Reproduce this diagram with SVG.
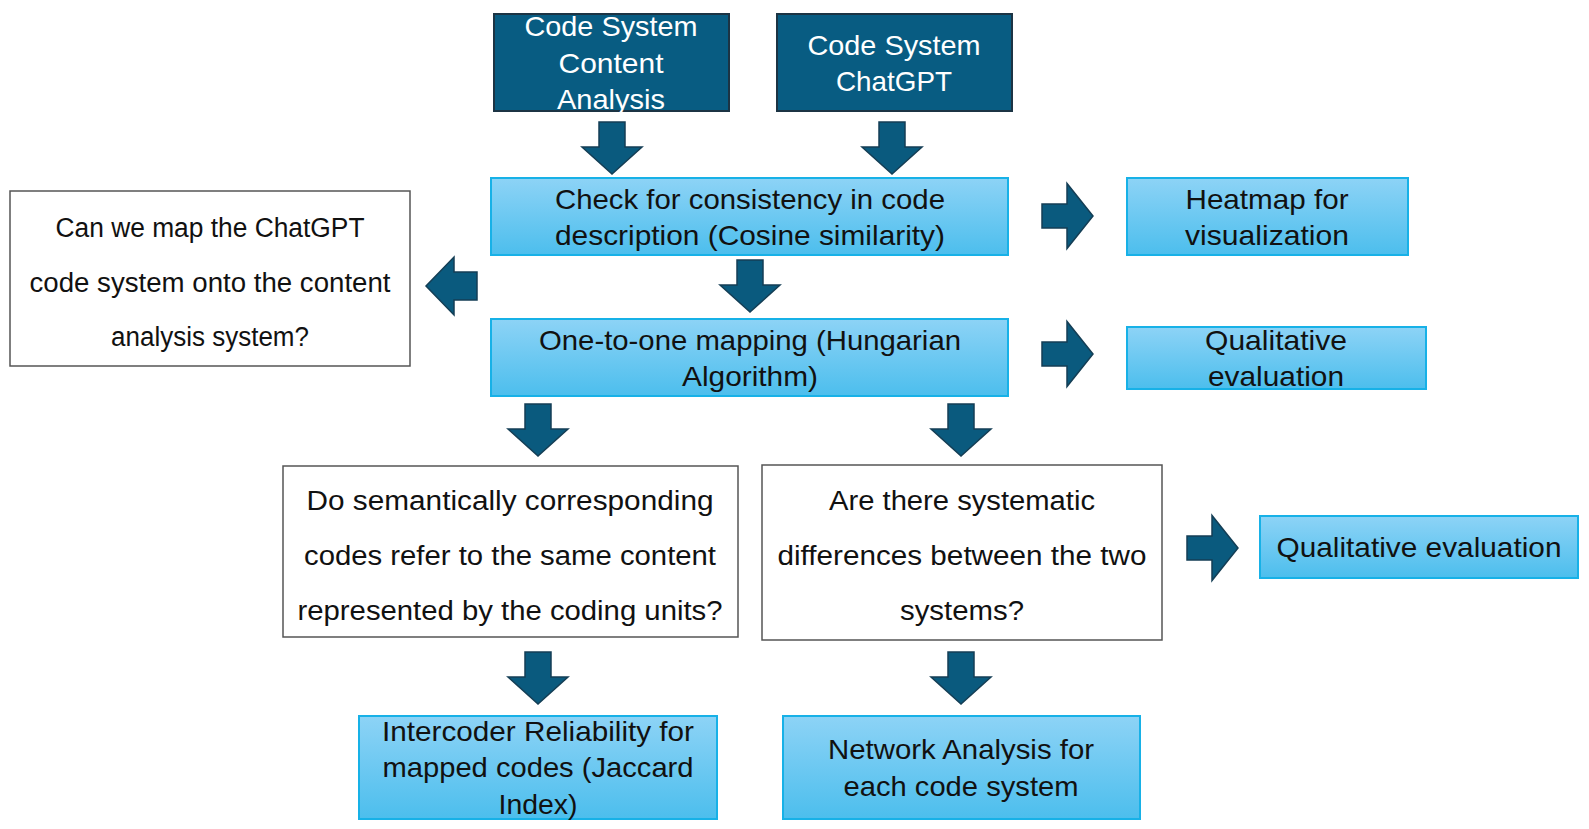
<svg xmlns="http://www.w3.org/2000/svg" width="1589" height="829" viewBox="0 0 1589 829">
<defs>
<linearGradient id="lb" x1="0" y1="0" x2="0" y2="1">
<stop offset="0" stop-color="#8DD3F6"/>
<stop offset="1" stop-color="#4CBEED"/>
</linearGradient>
<path id="ad" d="M-13,0 H13 V25 H30 L0,52 L-30,25 H-13 Z"/>
<path id="ar" d="M0,-12 H25 V-32.5 L51,0 L25,32.5 V12 H0 Z"/>
<path id="al" d="M0,0 L28,-29 V-14 H51 V14 H28 V29 Z"/>
</defs>
<style>
.dark{fill:#085C82;stroke:#1C3444;stroke-width:2}
.light{fill:url(#lb);stroke:#17B1E7;stroke-width:2}
.white{fill:#FFFFFF;stroke:#555555;stroke-width:1.5}
.arrow{fill:#0A5A7E;stroke:#143E55;stroke-width:1.5}
text{font-family:"Liberation Sans",Arial,sans-serif;text-anchor:middle;dominant-baseline:central}
.tw{fill:#FFFFFF;font-size:28px}
.tb{fill:#111111;font-size:28px}
.tq{fill:#111111;font-size:27px}
</style>
<rect width="1589" height="829" fill="#FFFFFF"/>

<g id="connectors">
<use href="#ad" class="arrow" x="612" y="122"/>
<use href="#ad" class="arrow" x="892" y="122"/>
<use href="#ad" class="arrow" x="750" y="260"/>
<use href="#ad" class="arrow" x="538" y="404"/>
<use href="#ad" class="arrow" x="961" y="404"/>
<use href="#ad" class="arrow" x="538" y="652"/>
<use href="#ad" class="arrow" x="961" y="652"/>
<use href="#ar" class="arrow" x="1042" y="216"/>
<use href="#ar" class="arrow" x="1042" y="354"/>
<use href="#ar" class="arrow" x="1187" y="548"/>
<use href="#al" class="arrow" x="426" y="286"/>
</g>

<g id="n-content">
<rect class="dark" x="494" y="14" width="235" height="97"/>
<text class="tw" x="611" y="26" textLength="173" lengthAdjust="spacingAndGlyphs">Code System</text>
<text class="tw" x="611" y="63" textLength="105" lengthAdjust="spacingAndGlyphs">Content</text>
<text class="tw" x="611" y="99" textLength="108" lengthAdjust="spacingAndGlyphs">Analysis</text>
</g>

<g id="n-chatgpt">
<rect class="dark" x="777" y="14" width="235" height="97"/>
<text class="tw" x="894" y="45" textLength="173" lengthAdjust="spacingAndGlyphs">Code System</text>
<text class="tw" x="894" y="81" textLength="116" lengthAdjust="spacingAndGlyphs">ChatGPT</text>
</g>

<g id="n-check">
<rect class="light" x="491" y="178" width="517" height="77"/>
<text class="tb" x="750" y="199" textLength="390" lengthAdjust="spacingAndGlyphs">Check for consistency in code</text>
<text class="tb" x="750" y="235" textLength="390" lengthAdjust="spacingAndGlyphs">description (Cosine similarity)</text>
</g>

<g id="n-heatmap">
<rect class="light" x="1127" y="178" width="281" height="77"/>
<text class="tb" x="1267" y="199" textLength="163" lengthAdjust="spacingAndGlyphs">Heatmap for</text>
<text class="tb" x="1267" y="235" textLength="164" lengthAdjust="spacingAndGlyphs">visualization</text>
</g>

<g id="n-question1">
<rect class="white" x="10" y="191" width="400" height="175"/>
<text class="tq" x="210" y="228" textLength="309" lengthAdjust="spacingAndGlyphs">Can we map the ChatGPT</text>
<text class="tq" x="210" y="283" textLength="361" lengthAdjust="spacingAndGlyphs">code system onto the content</text>
<text class="tq" x="210" y="337" textLength="198" lengthAdjust="spacingAndGlyphs">analysis system?</text>
</g>

<g id="n-mapping">
<rect class="light" x="491" y="319" width="517" height="77"/>
<text class="tb" x="750" y="340" textLength="422" lengthAdjust="spacingAndGlyphs">One-to-one mapping (Hungarian</text>
<text class="tb" x="750" y="376" textLength="136" lengthAdjust="spacingAndGlyphs">Algorithm)</text>
</g>

<g id="n-qual1">
<rect class="light" x="1127" y="327" width="299" height="62"/>
<text class="tb" x="1276" y="340" textLength="142" lengthAdjust="spacingAndGlyphs">Qualitative</text>
<text class="tb" x="1276" y="376" textLength="136" lengthAdjust="spacingAndGlyphs">evaluation</text>
</g>

<g id="n-question2">
<rect class="white" x="283" y="466" width="455" height="171"/>
<text class="tq" x="510" y="501" textLength="407" lengthAdjust="spacingAndGlyphs">Do semantically corresponding</text>
<text class="tq" x="510" y="556" textLength="412" lengthAdjust="spacingAndGlyphs">codes refer to the same content</text>
<text class="tq" x="510" y="611" textLength="425" lengthAdjust="spacingAndGlyphs">represented by the coding units?</text>
</g>

<g id="n-question3">
<rect class="white" x="762" y="465" width="400" height="175"/>
<text class="tq" x="962" y="501" textLength="266" lengthAdjust="spacingAndGlyphs">Are there systematic</text>
<text class="tq" x="962" y="556" textLength="369" lengthAdjust="spacingAndGlyphs">differences between the two</text>
<text class="tq" x="962" y="611" textLength="124" lengthAdjust="spacingAndGlyphs">systems?</text>
</g>

<g id="n-qual2">
<rect class="light" x="1260" y="516" width="318" height="62"/>
<text class="tb" x="1419" y="547" textLength="285" lengthAdjust="spacingAndGlyphs">Qualitative evaluation</text>
</g>

<g id="n-intercoder">
<rect class="light" x="359" y="716" width="358" height="103"/>
<text class="tb" x="538" y="731" textLength="312" lengthAdjust="spacingAndGlyphs">Intercoder Reliability for</text>
<text class="tb" x="538" y="767" textLength="311" lengthAdjust="spacingAndGlyphs">mapped codes (Jaccard</text>
<text class="tb" x="538" y="804" textLength="79" lengthAdjust="spacingAndGlyphs">Index)</text>
</g>

<g id="n-network">
<rect class="light" x="783" y="716" width="357" height="103"/>
<text class="tb" x="961" y="749" textLength="266" lengthAdjust="spacingAndGlyphs">Network Analysis for</text>
<text class="tb" x="961" y="786" textLength="235" lengthAdjust="spacingAndGlyphs">each code system</text>
</g>
</svg>
